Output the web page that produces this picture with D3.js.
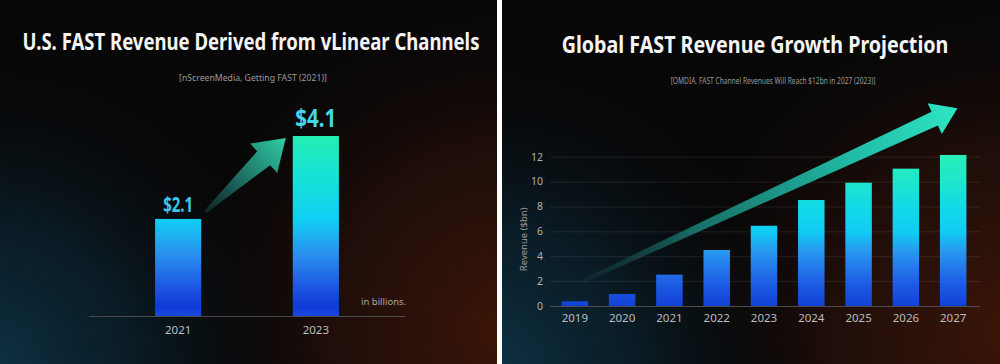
<!DOCTYPE html>
<html>
<head>
<meta charset="utf-8">
<script src="https://cdn.jsdelivr.net/npm/d3@7"></script>
<style>
  html, body { margin: 0; padding: 0; background: #ffffff; }
  svg { display: block; }
</style>
</head>
<body>
<svg id="chart" width="1000" height="364"></svg>
<script>
// ---------- DATA ----------
const usYears = ["2021", "2023"];
const usRevenue = [2.1, 4.1];
const usLabels = ["$2.1", "$4.1"];

const globalYears = ["2019", "2020", "2021", "2022", "2023", "2024", "2025", "2026", "2027"];
const globalRevenue = [0.38, 0.96, 2.52, 4.5, 6.45, 8.52, 9.91, 11.04, 12.14];
const globalTicks = [0, 2, 4, 6, 8, 10, 12];

const leftTitle = "U.S. FAST Revenue Derived from vLinear Channels";
const leftSource = "[nScreenMedia, Getting FAST (2021)]";
const leftUnit = "in billions.";
const rightTitle = "Global FAST Revenue Growth Projection";
const rightSource = "[OMDIA, FAST Channel Revenues Will Reach $12bn in 2027 (2023)]";
const rightAxisTitle = "Revenue ($bn)";

// ---------- SETUP ----------
const svg = d3.select("#chart");
const defs = svg.append("defs");
const FONT = "'Noto Sans', 'Open Sans', sans-serif";

function addLinear(id, x1, y1, x2, y2, stops) {
  const g = defs.append("linearGradient").attr("id", id)
    .attr("gradientUnits", "userSpaceOnUse")
    .attr("x1", x1).attr("y1", y1).attr("x2", x2).attr("y2", y2);
  stops.forEach(s => g.append("stop").attr("offset", s[0]).attr("stop-color", s[1]).attr("stop-opacity", s[2] == null ? 1 : s[2]));
}
function addRadial(id, cx, cy, r, stops) {
  const g = defs.append("radialGradient").attr("id", id)
    .attr("gradientUnits", "userSpaceOnUse")
    .attr("cx", cx).attr("cy", cy).attr("r", r);
  stops.forEach(s => g.append("stop").attr("offset", s[0]).attr("stop-color", s[1]).attr("stop-opacity", s[2]));
}

function panelBackground(x0, w, id) {
  const g = svg.append("g");
  g.append("rect").attr("x", x0).attr("y", 0).attr("width", w).attr("height", 364).attr("fill", "#070707");
  addRadial(id + "teal", x0 - 20, 380, 340, [[0, "#0e3448", 1], [0.45, "#0b2533", 0.7], [1, "#070707", 0]]);
  addRadial(id + "brown", x0 + w + 10, 330, 360, [[0, "#3d1608", 1], [0.5, "#28100a", 0.7], [1, "#070707", 0]]);
  g.append("rect").attr("x", x0).attr("y", 0).attr("width", w).attr("height", 364).attr("fill", `url(#${id}brown)`);
  g.append("rect").attr("x", x0).attr("y", 0).attr("width", w).attr("height", 364).attr("fill", `url(#${id}teal)`);
}
panelBackground(0, 497, "bgL");
panelBackground(502, 498, "bgR");

function arrowPath(T, P, L, W, S, s0) {
  const dx = P[0] - T[0], dy = P[1] - T[1];
  const len = Math.hypot(dx, dy);
  const u = [dx / len, dy / len], n = [-u[1], u[0]];
  const B = [P[0] - u[0] * L, P[1] - u[1] * L];
  const pt = (b, k) => [b[0] + n[0] * k, b[1] + n[1] * k];
  const pts = [pt(T, s0), pt(B, S), pt(B, W), P, pt(B, -W), pt(B, -S), pt(T, -s0)];
  return d3.line()(pts) + "Z";
}

// centred text squeezed horizontally to a target width (keeps height of font)
function fitText(parent, cx, y, text, size, weight, fill, width) {
  const t = parent.append("text").attr("x", 0).attr("y", 0).attr("text-anchor", "middle")
    .attr("font-family", FONT).attr("font-weight", weight).attr("font-size", size)
    .attr("fill", fill).text(text);
  const nat = t.node().getComputedTextLength() || width;
  const s = Math.min(1.2, width / nat);
  t.attr("transform", `translate(${cx},${y}) scale(${s},1)`);
  return t;
}

// ---------- LEFT PANEL ----------
fitText(svg, 251, 50, leftTitle, 24, 700, "#f4f4f4", 457);
fitText(svg, 253, 81, leftSource, 9.5, 400, "#9a9a9a", 148);

const xL = d3.scaleBand().domain(usYears).range([89, 405]).paddingInner(0.665).paddingOuter(0.48);
const yL = d3.scaleLinear().domain([-0.24, 4.1]).range([316, 136]);

addLinear("barL", 0, yL(4.1), 0, yL.range()[0], [
  [0, "#24edb4"], [0.22, "#18e2d6"], [0.46, "#10cff4"], [0.66, "#2a8fee"],
  [0.86, "#1a50e0"], [0.95, "#0f3ad6"], [1, "#1a48dc"]
]);

const gL = svg.append("g");
gL.append("line").attr("x1", xL.range()[0]).attr("x2", xL.range()[1])
  .attr("y1", yL.range()[0] + 0.5).attr("y2", yL.range()[0] + 0.5)
  .attr("stroke", "#4a4a4a").attr("stroke-width", 1);

gL.selectAll("rect.bar").data(usRevenue).join("rect").attr("class", "bar")
  .attr("x", (d, i) => xL(usYears[i])).attr("width", xL.bandwidth())
  .attr("y", d => yL(d)).attr("height", d => yL.range()[0] - yL(d))
  .attr("fill", "url(#barL)");

usRevenue.forEach((d, i) => {
  const last = i === usRevenue.length - 1;
  fitText(gL, xL(usYears[i]) + xL.bandwidth() / 2, yL(d) - (last ? 9 : 6.5), usLabels[i],
    last ? 25 : 21, 700, last ? "#44d6ea" : "#3cc6ef", last ? 41 : 30);
});

const axL = gL.append("g").attr("transform", `translate(0,${yL.range()[0]})`)
  .call(d3.axisBottom(xL).tickSize(0).tickPadding(10));
axL.select(".domain").remove();
axL.selectAll("text").attr("font-family", FONT).attr("font-size", 11.5).attr("fill", "#bdbdbd");

gL.append("text").attr("x", 361).attr("y", 304.5).attr("font-family", FONT)
  .attr("font-size", 9.5).attr("fill", "#a8a8a8").text(leftUnit);

// left arrow
const tL = [xL(usYears[0]) + xL.bandwidth() + 4, yL(usRevenue[0]) - 7];
const pL = [xL(usYears[1]) - 7, yL(usRevenue[1]) + 2];
addLinear("arrL", tL[0], tL[1], pL[0], pL[1], [
  [0, "#163a3c", 0.6], [0.45, "#1f7a6e", 0.9], [1, "#2fcfa6", 1]
]);
gL.append("path").attr("d", arrowPath(tL, pL, 30, 20, 9.5, 1.5)).attr("fill", "url(#arrL)");

// ---------- RIGHT PANEL ----------
fitText(svg, 755, 53, rightTitle, 24, 700, "#f4f4f4", 387);
fitText(svg, 773, 84, rightSource, 9.5, 400, "#9a9a9a", 205);

const xR = d3.scaleBand().domain(globalYears).range([548, 980]).paddingInner(0.44).paddingOuter(0.287);
const yR = d3.scaleLinear().domain([0, 12]).range([306, 156.7]);

addLinear("barR", 0, yR(12.2), 0, yR(0), [
  [0, "#28efb8"], [0.185, "#1ee6cc"], [0.33, "#14dbe6"], [0.51, "#10ccf4"],
  [0.64, "#2898f0"], [0.83, "#1e62e6"], [1, "#1240d6"]
]);

const gR = svg.append("g");
const grid = gR.append("g").attr("transform", "translate(550,0)")
  .call(d3.axisLeft(yR).tickValues(globalTicks).tickSize(-430).tickPadding(7).tickFormat(d3.format("d")));
grid.select(".domain").remove();
grid.selectAll("line").attr("stroke", (d) => d === 0 ? "#4d4d4d" : "#ffffff")
  .attr("stroke-opacity", (d) => d === 0 ? 1 : 0.09);
grid.selectAll("text").attr("font-family", FONT).attr("font-size", 10.5).attr("fill", "#b0b0b0");

gR.append("text").attr("transform", `translate(527,${(yR(0) + yR(12)) / 2 + 8}) rotate(-90)`)
  .attr("text-anchor", "middle").attr("font-family", FONT).attr("font-size", 9.5)
  .attr("fill", "#9c9c9c").text(rightAxisTitle);

// arrow (behind bars)
const tR = [xR(globalYears[0]) + xR.bandwidth() * 0.8, yR(2)];
const pR = [xR(globalYears[8]) + xR.bandwidth() * 0.66, yR(15.9)];
addLinear("arrR", tR[0], tR[1], pR[0], pR[1], [
  [0, "#163c40", 0.3], [0.3, "#1a8078", 0.85], [0.7, "#20b8a4", 1], [1, "#2de6c2", 1]
]);
gR.append("path").attr("d", arrowPath(tR, pR, 25, 17, 7.5, 2)).attr("fill", "url(#arrR)");

gR.selectAll("rect.bar").data(globalRevenue).join("rect").attr("class", "bar")
  .attr("x", (d, i) => xR(globalYears[i])).attr("width", xR.bandwidth())
  .attr("y", d => yR(d)).attr("height", d => yR(0) - yR(d))
  .attr("fill", "url(#barR)");

const axR = gR.append("g").attr("transform", `translate(0,${yR(0)})`)
  .call(d3.axisBottom(xR).tickSize(0).tickPadding(8));
axR.select(".domain").remove();
axR.selectAll("text").attr("font-family", FONT).attr("font-size", 11.5).attr("fill", "#bdbdbd");
</script>
</body>
</html>
